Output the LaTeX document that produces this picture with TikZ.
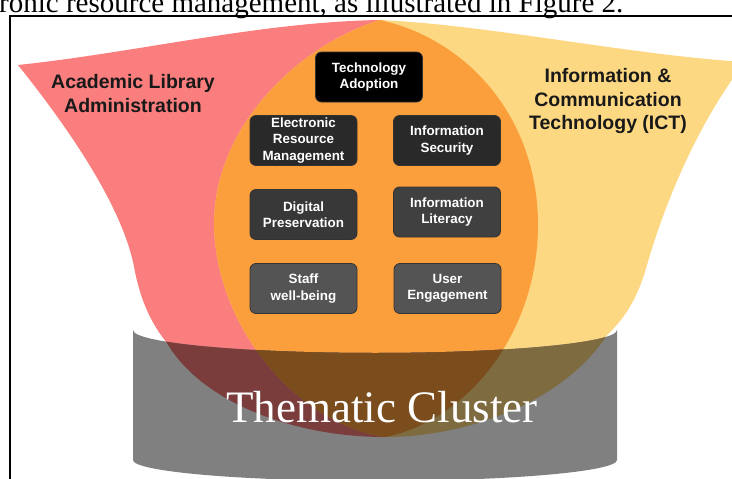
\documentclass[tikz,border=0pt]{standalone}
\usepackage{fontspec}
\setmainfont{Liberation Serif}
\setsansfont{Liberation Sans}
\definecolor{adminred}{HTML}{FA7E7E}
\definecolor{ictyellow}{HTML}{FDD882}
\definecolor{coreorange}{HTML}{FB9F3D}
\definecolor{cylgray}{HTML}{808080}
\definecolor{redgray}{HTML}{7B3C3C}
\definecolor{yellowgray}{HTML}{7E6B3F}
\definecolor{orangegray}{HTML}{7B4C1C}
\newcommand{\adminshape}{(18,65) .. controls (140,52) and (260,22) .. (380,20) .. controls (470,40) and (538,120) .. (538,225) .. controls (538,330) and (470,420) .. (385,437) .. controls (290,437) and (200,400) .. (167,343) .. controls (150,322) and (141,300) .. (135,272) .. controls (125,210) and (70,130) .. (18,65) -- cycle}
\newcommand{\ictshape}{(745,62) .. controls (630,55) and (490,25) .. (380,20) .. controls (300,45) and (214,125) .. (214,225) .. controls (216,330) and (300,425) .. (385,437) .. controls (470,437) and (565,400) .. (607,335) .. controls (625,318) and (636,300) .. (645,272) .. controls (665,200) and (700,120) .. (745,62) -- cycle}
\newcommand{\clustershape}{(133,330) -- (133,460) arc[start angle=180, end angle=0, x radius=242, y radius=21] -- (617,330) arc[start angle=0, end angle=180, x radius=242, y radius=23] -- cycle}

\begin{document}
\begin{tikzpicture}[x=1pt,y=-1pt,
box/.style={rounded corners=6pt,draw=black!80,line width=0.8pt,minimum width=107pt,minimum height=50pt,inner sep=0pt,align=center,text=white,font=\sffamily\bfseries\fontsize{13.4}{16.5}\selectfont},
lbl/.style={align=center,text=black!90,font=\sffamily\bfseries\fontsize{19.5}{23.5}\selectfont}]
\useasboundingbox (0,0) rectangle (732,479);
\clip (0,0) rectangle (732,479);
\node[anchor=base west,inner sep=0pt,font=\fontsize{29}{34}\selectfont] (cap) at (-1,12.7) {ronic resource management, as illustrated in Figure 2.};
\draw[line width=2.3pt] (9.7,490) -- (9.7,16) -- (745,16);

\fill[adminred] \adminshape;
\fill[ictyellow] \ictshape;
\begin{scope}
\clip \adminshape;
\fill[coreorange] \ictshape;
\end{scope}

\fill[cylgray] \clustershape;
\begin{scope}
\clip \clustershape;
\fill[redgray] \adminshape;
\fill[yellowgray] \ictshape;
\clip \adminshape;
\fill[orangegray] \ictshape;
\end{scope}

\node[lbl] (ALA) at (133,93.5) {Academic Library\\Administration};
\node[lbl] (ICT) at (608,101) {Information \&\\Communication\\Technology (ICT)};

\node[box,fill=black] (TA) at (369,77) {Technology\\Adoption};
\node[box,fill=black!84] (ERM) at (303.5,140.5) {Electronic\\Resource\\Management};
\node[box,fill=black!84] (IS) at (447,140.5) {Information\\Security};
\node[box,fill=black!78] (DP) at (303.5,214.5) {Digital\\Preservation};
\node[box,fill=black!75] (IL) at (447,212) {Information\\Literacy};
\node[box,fill=black!67] (SW) at (303.5,288.5) {Staff\\well-being};
\node[box,fill=black!67] (UE) at (447.5,288.5) {User\\Engagement};

\node[anchor=base,text=white,font=\fontsize{45}{54}\selectfont] (TC) at (382,422) {Thematic Cluster};
\end{tikzpicture}
\end{document}
